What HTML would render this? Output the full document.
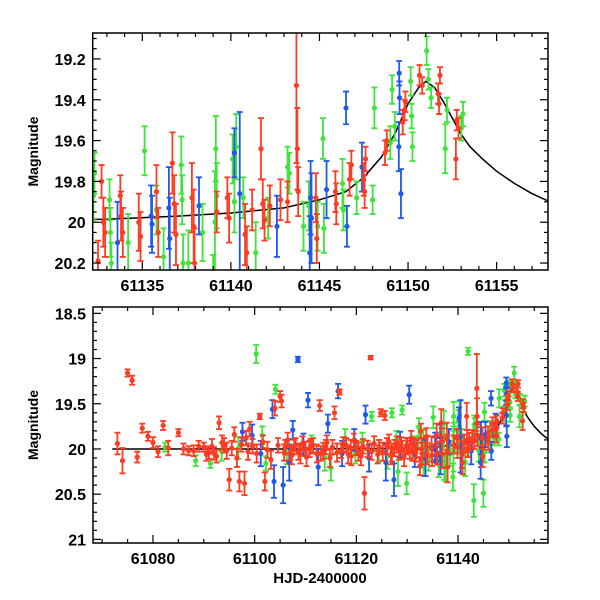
<!DOCTYPE html>
<html><head><meta charset="utf-8"><style>
html,body{margin:0;padding:0;background:#fff;}
svg{display:block;font-family:"Liberation Sans",sans-serif;}
</style></head><body>
<svg id="chart" width="600" height="600" viewBox="0 0 600 600" xmlns="http://www.w3.org/2000/svg"></svg>
<script>
// ---- data (HJD-2400000, magnitude, error) ----
const redX = [61073,61074,61075,61075.9,61076.9,61077.9,61079,61080,61081,61082,61083,61085,61086,61087,61088,61089,61090,61091,61092,61093,61094,61095,61096,61097,61098,61098.3,61099,61101,61102,61104,61105,61105.3,61106,61107,61108,61109,61110,61111,61112.8,61113,61114,61115.7,61116.7,61117,61118,61119,61120,61121.6,61122.8,61123,61124.8,61125.6,61126,61127,61128,61129,61130,61131,61132.7,61132.8,61132.9,61132.5,61133.76,61133.8,61133.9,61134.8,61134.9,61135.8,61135.9,61136.7,61136.8,61136.9,61137.8,61137.9,61137.95,61139.8,61139.9,61140.8,61140.9,61141.7,61141.8,61141.9,61142.8,61143.7,61143.75,61143.8,61144.8,61144.85,61145.9,61145.95,61146.7,61146.8,61147.5,61147.6,61147.55,61148.7,61148.8,61149.7,61149.8,61149.85,61150.65,61150.8,61151.7,61151.75,61151.8,61152.7,61152.75,61152.85,
61090.5,61091.6,61092.5,61093.6,61094.5,61095.5,61096.5,61097.4,61098.7,61099.6,61100.4,61101.6,61102.5,61103.2,61104.6,61105.8,61106.5,61107.3,61107.8,61108.6,61109.4,61110.2,61110.8,61111.5,61112.2,61113.5,61114.2,61114.8,61115.3,61116.2,61117.4,61118.4,61118.9,61119.5,61120.4,61120.9,61121.3,61122.2,61123.5,61124.2,61124.5,61125.2,61126.4,61126.8,61127.5,61128.4,61128.8,61129.4,61129.8,61130.5,61131.3,61131.7,61130.8,61131.9,61139.2,61141.2,61142.2,61143.2];
const redY = [19.94,20.13,19.16,19.24,20.09,19.77,19.86,19.93,20.03,19.74,19.99,19.82,20.0,20.02,20.02,19.97,19.98,20.04,20.05,19.71,19.96,20.34,19.84,20.36,20.38,19.88,19.78,19.64,20.36,19.55,19.42,19.47,19.98,20.04,19.95,20.06,20.0,19.97,19.52,20.05,19.98,19.6,19.37,20.02,19.96,20.08,19.99,20.49,18.99,20.03,19.6,19.63,19.97,20.04,19.95,20.01,19.96,20.03,19.8,20.0,20.05,20.19,19.87,19.97,20.05,20.0,20.07,19.85,20.05,19.71,19.91,20.06,19.88,20.02,20.2,19.88,19.98,20.06,20.15,19.64,19.91,19.99,19.89,19.33,19.64,19.85,19.88,20.08,19.85,19.91,19.79,19.72,19.79,19.69,19.85,19.66,19.6,19.51,19.45,19.41,19.28,19.33,19.37,19.42,19.28,19.69,19.5,19.54,
20.06,19.97,20.08,19.93,20.02,19.99,20.1,19.95,20.03,19.97,20.05,19.92,20.01,20.12,19.96,20.04,19.9,20.07,19.98,20.03,19.94,20.09,20.0,19.96,20.05,20.02,19.93,20.1,19.98,20.04,19.95,20.06,19.99,19.91,20.03,20.08,19.97,20.0,19.94,20.06,19.98,20.03,19.92,20.07,19.99,20.02,19.95,20.09,19.97,20.01,19.96,20.04,19.88,20.0,19.95,19.94,19.92,19.9];
const redE = [0.12,0.14,0.04,0.05,0.06,0.05,0.05,0.06,0.06,0.05,0.08,0.04,0.06,0.05,0.06,0.06,0.05,0.07,0.07,0.07,0.08,0.12,0.08,0.11,0.13,0.08,0.08,0.03,0.1,0.08,0.06,0.07,0.08,0.08,0.07,0.1,0.08,0.08,0.06,0.08,0.08,0.07,0.03,0.08,0.08,0.1,0.08,0.18,0.02,0.09,0.04,0.05,0.09,0.1,0.09,0.1,0.08,0.1,0.08,0.12,0.12,0.1,0.1,0.12,0.12,0.14,0.12,0.13,0.12,0.15,0.14,0.15,0.17,0.18,0.17,0.1,0.12,0.15,0.13,0.15,0.12,0.1,0.1,0.38,0.2,0.12,0.12,0.12,0.1,0.1,0.08,0.07,0.08,0.06,0.08,0.06,0.05,0.06,0.05,0.05,0.05,0.04,0.05,0.05,0.04,0.1,0.05,0.05,
0.07,0.08,0.07,0.08,0.09,0.08,0.1,0.08,0.09,0.08,0.1,0.07,0.09,0.1,0.08,0.09,0.08,0.1,0.08,0.09,0.08,0.1,0.09,0.08,0.1,0.09,0.08,0.1,0.08,0.1,0.08,0.1,0.09,0.08,0.1,0.1,0.08,0.09,0.08,0.1,0.08,0.1,0.08,0.1,0.09,0.1,0.08,0.1,0.09,0.1,0.08,0.1,0.08,0.1,0.1,0.1,0.1,0.1];
const greenX = [61082.4,61088.4,61091.3,61100.3,61102.2,61104.1,61115,61123,61127,61129,61129.9,61132.24,61132.3,61133.15,61133.2,61133.25,61135.13,61136.2,61137.2,61137.25,61137.3,61139.1,61139.15,61139.2,61140.1,61140.2,61140.3,61142.1,61143.2,61143.3,61144.1,61144.9,61145.2,61145.25,61146.3,61146.35,61147.1,61148,61148.1,61149,61149.1,61149.25,61150.2,61150.25,61150.15,61151.05,61151.15,61151.3,61152.1,61152.2,61153.0,61153.1,61139,61142,61143.1,61145,
61093.5,61096.8,61101.5,61106.3,61111.2,61113.8,61117.8,61119.8,61121.2,61124.4,61126.1,61127.9,61128.2,61131.2,61134.2,61135.8,61137.6,61138.4,61140.7,61141.4,61144.4];
const greenY = [19.98,20.13,20.16,18.95,20.16,19.34,20.21,19.64,19.6,19.57,20.38,19.87,19.76,19.89,20.05,20.2,19.65,20.17,19.72,19.89,20.2,20.0,19.64,19.87,19.69,19.9,19.63,19.98,19.73,19.76,20.02,20.02,19.59,20.03,19.81,19.94,19.88,19.89,19.44,19.61,19.35,19.53,19.48,19.63,19.31,19.16,19.3,19.39,19.64,19.45,19.54,19.47,20.31,18.92,20.57,20.49,
20.03,19.99,19.85,20.05,19.95,20.1,19.88,20.04,19.92,20.02,20.08,19.9,20.25,19.98,20.1,19.94,20.2,20.05,19.88,20.15,19.92];
const greenE = [0.05,0.06,0.05,0.1,0.08,0.05,0.14,0.05,0.05,0.05,0.12,0.12,0.1,0.1,0.12,0.1,0.12,0.14,0.14,0.12,0.14,0.25,0.16,0.16,0.12,0.15,0.16,0.1,0.1,0.1,0.12,0.12,0.1,0.12,0.12,0.1,0.08,0.07,0.1,0.08,0.07,0.07,0.06,0.07,0.07,0.07,0.05,0.05,0.12,0.06,0.06,0.06,0.15,0.04,0.18,0.15,
0.1,0.12,0.1,0.12,0.1,0.14,0.1,0.12,0.1,0.12,0.14,0.1,0.16,0.12,0.14,0.12,0.16,0.14,0.1,0.15,0.12];
const blueX = [61097.6,61099.5,61103.5,61103.8,61105.6,61107.5,61108.5,61110.5,61114.4,61116.4,61121.8,61127.4,61130.4,61140.2,61135.5,61135.55,61136.5,61136.55,61140.5,61144.5,61144.55,61144.45,61145.4,61146.5,61146.55,61147.4,61149.5,61149.52,61149.48,61149.6,
61101.2,61106.8,61109.6,61112.5,61117.2,61119.6,61122.5,61125.8,61128.6,61131.5,61133.6,61138.2,61142.6];
const blueY = [19.81,19.85,19.56,20.36,20.4,19.79,19.01,19.46,19.72,19.36,19.62,20.34,19.4,19.66,19.97,20.01,19.93,20.08,19.86,19.88,19.98,20.15,19.84,19.44,20.02,19.73,19.27,19.39,19.63,19.86,
20.05,20.15,19.95,20.2,20.05,19.9,20.1,20.15,19.95,20.05,20.1,19.92,20.02];
const blueE = [0.1,0.12,0.1,0.18,0.2,0.1,0.03,0.08,0.1,0.08,0.1,0.18,0.1,0.12,0.15,0.14,0.2,0.2,0.4,0.18,0.22,0.18,0.14,0.08,0.1,0.12,0.06,0.08,0.12,0.12,
0.14,0.2,0.12,0.2,0.14,0.12,0.15,0.2,0.14,0.15,0.2,0.14,0.15];
// model curve
const curveX = [61072,61090,61110,61125,61133,61137,61140,61143,61145,61146.5,61147.5,61148.5,61149.3,61150,61150.6,61151,61151.5,61152,61152.5,61153,61153.5,61154.2,61155,61156,61157,61158];
const curveY = [20.0,20.0,20.0,19.995,19.985,19.97,19.955,19.93,19.89,19.85,19.78,19.68,19.56,19.42,19.34,19.31,19.34,19.41,19.49,19.57,19.63,19.69,19.75,19.81,19.86,19.9];
const topXTicks = [61135,61140,61145,61150,61155];
const topYTicks = [19.2,19.4,19.6,19.8,20,20.2];
const botXTicks = [61080,61100,61120,61140];
const botYTicks = [18.5,19,19.5,20,20.5,21];

const NS = "http://www.w3.org/2000/svg";
const svg = document.getElementById('chart');
function mk(tag, attrs, parent){const e=document.createElementNS(NS,tag);for(const k in attrs)e.setAttribute(k,attrs[k]);(parent||svg).appendChild(e);return e;}

const panels = [
 {id:'top', L:92.7, R:548, T:33, B:270, x0:61132.2, x1:61157.9, y0:19.073, y1:20.234, xMaj:topXTicks, xMin:1, yMaj:topYTicks, yMin:0.05, r:2.6, cap:3},
 {id:'bottom', L:93, R:548, T:307, B:543, x0:61068.2, x1:61157.7, y0:18.43, y1:21.04, xMaj:botXTicks, xMin:5, yMaj:botYTicks, yMin:0.1, r:2.6, cap:3}
];
const series = [
 {name:'green', xs:greenX, ys:greenY, es:greenE, color:'#3fe43a'},
 {name:'blue', xs:blueX, ys:blueY, es:blueE, color:'#1f57ef'},
 {name:'red', xs:redX, ys:redY, es:redE, color:'#ff3b22'}
];
panels.forEach(p=>{
  const sx = v => p.L + (v-p.x0)/(p.x1-p.x0)*(p.R-p.L);
  const sy = v => p.T + (v-p.y0)/(p.y1-p.y0)*(p.B-p.T);
  const g = mk('g',{});
  
  
  const cp = mk('clipPath',{id:'clip-'+p.id},g);
  mk('rect',{x:p.L,y:p.T,width:p.R-p.L,height:p.B-p.T},cp);
  const plot = mk('g',{'clip-path':'url(#clip-'+p.id+')'},g);
  
  
  let d='';
  curveX.forEach((x,i)=>{d+=(i?'L':'M')+sx(x).toFixed(1)+','+sy(curveY[i]).toFixed(1);});
  const cv = mk('path',{d:d,fill:'none',stroke:'#000','stroke-width':1.5},plot);
  
  
  series.forEach(s=>{
    const sg = mk('g',{stroke:s.color,fill:s.color,'stroke-width':1.8},plot);
    
    
    s.xs.forEach((x,i)=>{
      const X=sx(x), y1=sy(s.ys[i]-s.es[i]), y2=sy(s.ys[i]+s.es[i]);
      mk('line',{x1:X,x2:X,y1:y1,y2:y2},sg);
      mk('line',{x1:X-p.cap,x2:X+p.cap,y1:y1,y2:y1},sg);
      mk('line',{x1:X-p.cap,x2:X+p.cap,y1:y2,y2:y2},sg);
      const c = mk('circle',{cx:X,cy:sy(s.ys[i]),r:p.r,stroke:'none'},sg);
      
      
    });
  });
  const fr = mk('rect',{x:p.L,y:p.T,width:p.R-p.L,height:p.B-p.T,fill:'none',stroke:'#000','stroke-width':1.5},g);
  
  
  const tg = mk('g',{stroke:'#000','stroke-width':1.2},g);
  for(let v=Math.ceil(p.x0/p.xMin)*p.xMin; v<=p.x1; v+=p.xMin){
    const X=sx(v), maj=p.xMaj.some(t=>Math.abs(t-v)<1e-6), L=maj?8:4;
    mk('line',{x1:X,x2:X,y1:p.B,y2:p.B-L},tg); mk('line',{x1:X,x2:X,y1:p.T,y2:p.T+L},tg);
  }
  for(let k=Math.ceil(p.y0/p.yMin-1e-6); k*p.yMin<=p.y1+1e-9; k++){
    const v=k*p.yMin, Y=sy(v), maj=p.yMaj.some(t=>Math.abs(t-v)<1e-6), L=maj?8:4;
    mk('line',{x1:p.L,x2:p.L+L,y1:Y,y2:Y},tg); mk('line',{x1:p.R,x2:p.R-L,y1:Y,y2:Y},tg);
  }
  p.xMaj.forEach(v=>{
    const t=mk('text',{x:sx(v),y:p.B+21,'text-anchor':'middle','font-size':16,'font-weight':'bold',fill:'#000'},g);
    t.textContent=v;
    
    
  });
  p.yMaj.forEach(v=>{
    const t=mk('text',{x:p.L-7,y:sy(v)+6,'text-anchor':'end','font-size':16,'font-weight':'bold',fill:'#000'},g);
    t.textContent=v;
    
    
  });
  const yl=mk('text',{x:0,y:0,transform:'translate(38,'+((p.T+p.B)/2)+') rotate(-90)','text-anchor':'middle','font-size':14,'font-weight':'bold',fill:'#000'},g);
  yl.textContent='Magnitude';
  
  
});
const xl=mk('text',{x:320,y:583,'text-anchor':'middle','font-size':15,'font-weight':'bold',fill:'#000'});
xl.textContent='HJD-2400000';


</script>
</body></html>
